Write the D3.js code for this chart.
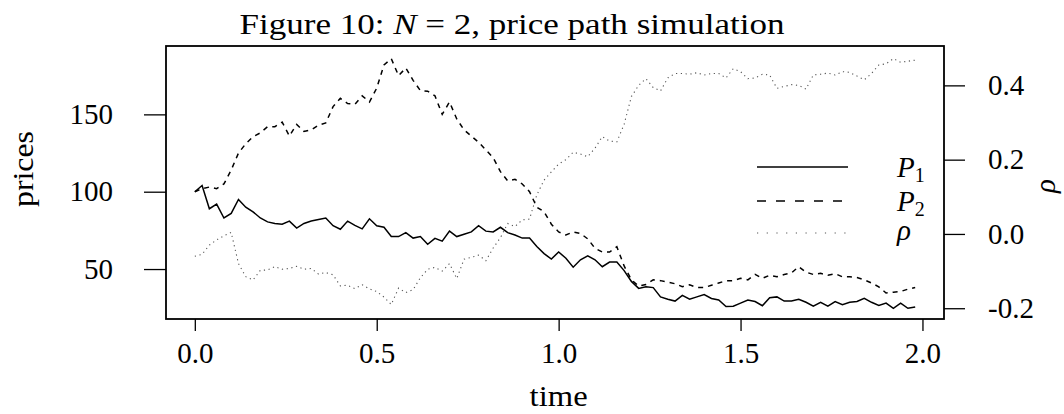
<!DOCTYPE html>
<html>
<head>
<meta charset="utf-8">
<script src="https://cdn.jsdelivr.net/npm/d3@7"></script>
<style>
  html, body { margin: 0; padding: 0; background: #fff; }
  svg text { font-family: "Liberation Serif", "DejaVu Serif", serif; fill: #000; }
</style>
</head>
<body>
<div id="chart"></div>
<script>
// price path data, sampled every 0.02 in time
const dt = 0.02;
const p1 = [100, 104, 89, 92, 83, 86, 95, 90, 87, 83,
  80.5, 79.5, 79, 81, 76.5, 79.5, 81, 82, 83, 78,
  75.7, 81, 78.2, 76, 82.5, 78, 77, 71, 71, 73.5,
  70, 71, 66, 69.8, 68, 74.5, 71, 72.5, 74, 78,
  74.5, 74, 77, 73.5, 72, 70, 70, 64.6, 60, 56.5,
  61, 57, 51.2, 56, 58.5, 56, 51.5, 54.5, 54.5, 49,
  42, 37.5, 38.5, 38, 32, 30.5, 29.3, 33, 30.5, 32,
  33.5, 31, 30, 25.8, 26, 28, 30, 29, 26.3, 31.5,
  32, 29.3, 29.3, 30.5, 28.5, 26, 28.5, 26, 29, 27,
  28.5, 29, 31, 28.5, 26.5, 28, 24.6, 28, 24.6, 25.5];
const p2 = [100, 102, 103, 102, 105, 114, 125, 131, 135.6, 138,
  142, 142, 145, 136, 143.5, 139, 140, 143, 144.5, 155,
  160.4, 157, 156.5, 162, 158, 167, 182, 186, 175, 180,
  172, 165.4, 165, 162, 150, 158, 147, 140, 136, 132,
  127, 122, 113, 107, 108, 105, 100, 90, 87, 79,
  74, 72, 74, 73, 69.5, 63.4, 61, 61, 64.4, 52,
  43, 39, 40, 43, 42.5, 41.5, 40.5, 38.6, 39.8, 38,
  38, 39.5, 41, 42.4, 42.4, 44, 43, 46.5, 44, 46,
  45, 46.5, 47.5, 51.5, 48, 46.5, 47.2, 46, 47, 45,
  45, 44.5, 43, 41, 38.5, 34.5, 35, 35.5, 37, 38];
const rho = [-0.06, -0.055, -0.03, -0.016, -0.005, 0.004, -0.08, -0.115, -0.124, -0.098,
  -0.097, -0.088, -0.095, -0.093, -0.087, -0.095, -0.093, -0.108, -0.104, -0.11,
  -0.14, -0.138, -0.147, -0.137, -0.148, -0.155, -0.17, -0.19, -0.146, -0.158,
  -0.15, -0.118, -0.095, -0.09, -0.1, -0.08, -0.12, -0.068, -0.063, -0.057,
  -0.072, -0.038, -0.01, 0.028, 0.02, 0.038, 0.04, 0.105, 0.145, 0.167,
  0.188, 0.2, 0.22, 0.215, 0.208, 0.231, 0.262, 0.25, 0.248, 0.295,
  0.37, 0.4, 0.418, 0.394, 0.385, 0.42, 0.432, 0.432, 0.43, 0.434,
  0.428, 0.432, 0.432, 0.42, 0.445, 0.437, 0.418, 0.42, 0.43, 0.428,
  0.392, 0.397, 0.402, 0.4, 0.39, 0.428, 0.43, 0.433, 0.428, 0.437,
  0.435, 0.425, 0.415, 0.432, 0.455, 0.458, 0.472, 0.462, 0.465, 0.468];
const times = d3.range(p1.length).map(i => i * dt);

const timeTicks = [0, 0.5, 1, 1.5, 2];
const timeTickLabels = ["0.0", "0.5", "1.0", "1.5", "2.0"];
const priceTicks = [50, 100, 150];
const rhoTicks = [-0.2, 0, 0.2, 0.4];
const rhoTickLabels = ["-0.2", "0.0", "0.2", "0.4"];

const width = 1064, height = 414;
const box = { left: 166, right: 944, top: 46, bottom: 319 };
const fontSize = 29;

const svg = d3.select("#chart").append("svg")
  .attr("width", width)
  .attr("height", height);

// R style 4% extension of the time range
const tMax = times[times.length - 1];
const x = d3.scaleLinear()
  .domain([-0.04 * tMax, 1.04 * tMax])
  .range([box.left, box.right]);
const yP = d3.scaleLinear().domain([17.7, 194.2]).range([box.bottom, box.top]);
const yR = d3.scaleLinear().domain([-0.229, 0.506]).range([box.bottom, box.top]);

// axes
const gx = svg.append("g")
  .attr("transform", `translate(0,${box.bottom})`)
  .call(d3.axisBottom(x).tickValues(timeTicks)
    .tickFormat((d, i) => timeTickLabels[i]).tickSize(12).tickPadding(11));

const gl = svg.append("g")
  .attr("transform", `translate(${box.left},0)`)
  .call(d3.axisLeft(yP).tickValues(priceTicks).tickSize(22).tickPadding(31));

const gr = svg.append("g")
  .attr("transform", `translate(${box.right},0)`)
  .call(d3.axisRight(yR).tickValues(rhoTicks)
    .tickFormat((d, i) => rhoTickLabels[i]).tickSize(21).tickPadding(23));

[gx, gl, gr].forEach(g => {
  g.select(".domain").remove();
  g.selectAll(".tick line").attr("stroke", "#000").attr("stroke-width", 1.3);
  g.selectAll(".tick text")
    .attr("font-family", "Liberation Serif")
    .attr("font-size", fontSize)
    .attr("fill", "#000");
});

// series
const line = yScale => d3.line()
  .x((d, i) => x(times[i]))
  .y(d => yScale(d));

svg.append("path").datum(rho)
  .attr("d", line(yR))
  .attr("fill", "none")
  .attr("stroke", "#555")
  .attr("stroke-width", 1.1)
  .attr("stroke-dasharray", "1.2,3.6");

svg.append("path").datum(p2)
  .attr("d", line(yP))
  .attr("fill", "none")
  .attr("stroke", "#000")
  .attr("stroke-width", 1.5)
  .attr("stroke-dasharray", "5,5");

svg.append("path").datum(p1)
  .attr("d", line(yP))
  .attr("fill", "none")
  .attr("stroke", "#000")
  .attr("stroke-width", 1.5);

// box
svg.append("rect")
  .attr("x", box.left)
  .attr("y", box.top)
  .attr("width", box.right - box.left)
  .attr("height", box.bottom - box.top)
  .attr("fill", "none")
  .attr("stroke", "#000")
  .attr("stroke-width", 1.8);

// title (Computer Modern is wider, so stretch to the same span)
const title = svg.append("text")
  .attr("x", 512)
  .attr("y", 34)
  .attr("text-anchor", "middle")
  .attr("font-size", fontSize)
  .attr("textLength", 545)
  .attr("lengthAdjust", "spacingAndGlyphs");
title.append("tspan").text("Figure 10:  ");
title.append("tspan").attr("font-style", "italic").text("N");
title.append("tspan").text(" = 2, price path simulation");

// axis titles
svg.append("text")
  .attr("x", x(1))
  .attr("y", 406)
  .attr("text-anchor", "middle")
  .attr("font-size", fontSize)
  .attr("textLength", 58)
  .attr("lengthAdjust", "spacingAndGlyphs")
  .text("time");

svg.append("text")
  .attr("transform", "translate(33,169) rotate(-90)")
  .attr("text-anchor", "middle")
  .attr("font-size", fontSize)
  .attr("textLength", 76)
  .attr("lengthAdjust", "spacingAndGlyphs")
  .text("prices");

svg.append("text")
  .attr("transform", "translate(1055,186) rotate(-90)")
  .attr("text-anchor", "middle")
  .attr("font-size", fontSize)
  .attr("font-style", "italic")
  .text("ρ");

// legend
const legendItems = [
  { name: "P", sub: "1", dash: null, color: "#000", w: 1.5, y: 167 },
  { name: "P", sub: "2", dash: "9,10", color: "#000", w: 1.5, y: 201 },
  { name: "ρ", sub: null, dash: "1.2,8.5", color: "#555", w: 1.1, y: 233 }
];
const lg = svg.append("g");
legendItems.forEach(it => {
  lg.append("line")
    .attr("x1", 757).attr("x2", 848)
    .attr("y1", it.y).attr("y2", it.y)
    .attr("stroke", it.color)
    .attr("stroke-width", it.w)
    .attr("stroke-dasharray", it.dash);
  const t = lg.append("text")
    .attr("x", 897)
    .attr("y", it.sub ? it.y + 10 : it.y + 7)
    .attr("font-size", fontSize);
  t.append("tspan").attr("font-style", "italic").text(it.name);
  if (it.sub) {
    t.append("tspan").attr("font-size", 20).attr("dy", 5).text(it.sub);
  }
});
</script>
</body>
</html>
